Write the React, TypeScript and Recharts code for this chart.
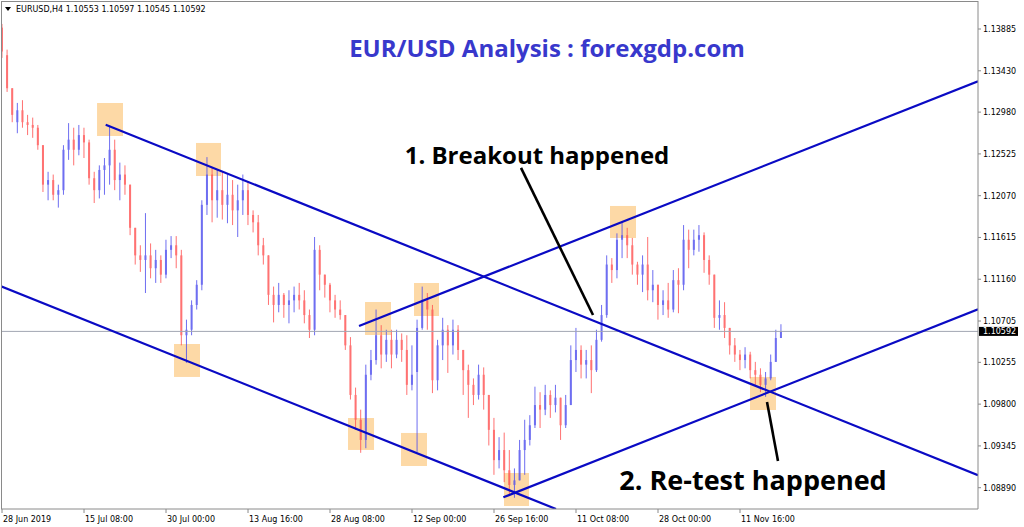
import { Bar, ComposedChart, ReferenceArea, ReferenceLine, XAxis, YAxis } from 'recharts';

const OPEN = [
  1.1390, 1.1360, 1.1324, 1.1287, 1.1300, 1.1287, 1.1284, 1.1281, 1.1262, 1.1219,
  1.1224, 1.1208, 1.1213, 1.1257, 1.1268, 1.1257, 1.1273, 1.1265, 1.1226, 1.1213,
  1.1235, 1.1240, 1.1257, 1.1224, 1.1230, 1.1219, 1.1172, 1.1142, 1.1137, 1.1142,
  1.1128, 1.1137, 1.1121, 1.1148, 1.1153, 1.1142, 1.1055, 1.1061, 1.1088, 1.1110,
  1.1197, 1.1230, 1.1202, 1.1213, 1.1197, 1.1208, 1.1191, 1.1202, 1.1213, 1.1186,
  1.1178, 1.1153, 1.1142, 1.1099, 1.1088, 1.1099, 1.1088, 1.1093, 1.1099, 1.1093,
  1.1077, 1.1061, 1.1148, 1.1121, 1.1110, 1.1093, 1.1083, 1.1077, 1.1044, 1.0990,
  1.0963, 1.0941, 1.1012, 1.1028, 1.1055, 1.1034, 1.1050, 1.1034, 1.1050, 1.1039,
  1.1001, 1.1015, 1.1063, 1.1093, 1.1083, 1.1006, 1.1044, 1.1061, 1.1044, 1.1061,
  1.1039, 1.1017, 1.1001, 1.0990, 1.1012, 1.0990, 1.0952, 1.0919, 1.0930, 1.0908,
  1.0892, 1.0897, 1.0930, 1.0941, 1.0957, 1.0979, 1.0974, 1.0990, 1.0979, 1.0987,
  1.0957, 1.0979, 1.1028, 1.1039, 1.1023, 1.1028, 1.1017, 1.1050, 1.1077, 1.1132,
  1.1126, 1.1159, 1.1164, 1.1153, 1.1132, 1.1121, 1.1132, 1.1104, 1.1110, 1.1088,
  1.1093, 1.1083, 1.1115, 1.1110, 1.1159, 1.1148, 1.1159, 1.1164, 1.1137, 1.1121,
  1.1074, 1.1077, 1.1063, 1.1044, 1.1034, 1.1028, 1.1034, 1.1017, 1.1012, 1.1001,
  1.1008, 1.1026, 1.1052,
];
const HIGH = [
  1.1394, 1.1366, 1.1324, 1.1308, 1.1311, 1.1295, 1.1292, 1.1284, 1.1262, 1.1233,
  1.1230, 1.1219, 1.1262, 1.1286, 1.1281, 1.1284, 1.1281, 1.1268, 1.1233, 1.1240,
  1.1248, 1.1283, 1.1268, 1.1243, 1.1240, 1.1219, 1.1172, 1.1153, 1.1188, 1.1155,
  1.1148, 1.1142, 1.1159, 1.1163, 1.1163, 1.1148, 1.1072, 1.1093, 1.1115, 1.1202,
  1.1249, 1.1237, 1.1235, 1.1233, 1.1230, 1.1224, 1.1219, 1.1230, 1.1222, 1.1191,
  1.1186, 1.1161, 1.1142, 1.1108, 1.1112, 1.1101, 1.1104, 1.1108, 1.1112, 1.1104,
  1.1083, 1.1162, 1.1153, 1.1121, 1.1112, 1.1099, 1.1093, 1.1077, 1.1053, 1.0998,
  1.0974, 1.1023, 1.1039, 1.1083, 1.1066, 1.1061, 1.1061, 1.1061, 1.1057, 1.1055,
  1.1044, 1.1072, 1.1108, 1.1101, 1.1088, 1.1050, 1.1074, 1.1066, 1.1072, 1.1066,
  1.1039, 1.1023, 1.1008, 1.1023, 1.1020, 1.0990, 1.0965, 1.0944, 1.0949, 1.0930,
  1.0910, 1.0941, 1.0963, 1.0968, 1.0999, 1.0993, 1.1001, 1.0995, 1.1001, 1.0987,
  1.0990, 1.1044, 1.1063, 1.1044, 1.1039, 1.1044, 1.1061, 1.1088, 1.1142, 1.1139,
  1.1166, 1.1178, 1.1172, 1.1161, 1.1135, 1.1142, 1.1162, 1.1126, 1.1110, 1.1104,
  1.1112, 1.1126, 1.1128, 1.1175, 1.1170, 1.1170, 1.1175, 1.1167, 1.1142, 1.1121,
  1.1093, 1.1091, 1.1063, 1.1052, 1.1039, 1.1042, 1.1037, 1.1026, 1.1019, 1.1015,
  1.1034, 1.1061, 1.1067,
];
const LOW = [
  1.1357, 1.1320, 1.1287, 1.1275, 1.1281, 1.1273, 1.1270, 1.1257, 1.1211, 1.1202,
  1.1202, 1.1194, 1.1208, 1.1246, 1.1240, 1.1251, 1.1248, 1.1219, 1.1199, 1.1204,
  1.1208, 1.1219, 1.1213, 1.1202, 1.1208, 1.1164, 1.1132, 1.1124, 1.1101, 1.1117,
  1.1112, 1.1112, 1.1117, 1.1139, 1.1128, 1.1044, 1.1025, 1.1055, 1.1083, 1.1104,
  1.1186, 1.1178, 1.1183, 1.1181, 1.1177, 1.1175, 1.1162, 1.1186, 1.1175, 1.1167,
  1.1142, 1.1132, 1.1088, 1.1069, 1.1080, 1.1074, 1.1068, 1.1080, 1.1083, 1.1068,
  1.1052, 1.1055, 1.1104, 1.1096, 1.1080, 1.1074, 1.1072, 1.1039, 1.0985, 1.0952,
  1.0927, 1.0932, 1.1006, 1.1023, 1.1019, 1.1026, 1.1019, 1.1030, 1.1026, 1.0990,
  1.0995, 1.0928, 1.1061, 1.1061, 1.0992, 1.0995, 1.1028, 1.1014, 1.1034, 1.1028,
  1.0990, 1.0965, 1.0979, 1.0985, 1.0974, 1.0935, 1.0903, 1.0910, 1.0895, 1.0881,
  1.0878, 1.0897, 1.0903, 1.0935, 1.0954, 1.0954, 1.0968, 1.0965, 1.0971, 1.0941,
  1.0954, 1.0979, 1.1015, 1.1008, 1.1008, 1.0992, 1.1015, 1.1048, 1.1074, 1.1112,
  1.1117, 1.1139, 1.1139, 1.1121, 1.1110, 1.1102, 1.1093, 1.1091, 1.1072, 1.1077,
  1.1074, 1.1080, 1.1079, 1.1104, 1.1128, 1.1142, 1.1146, 1.1123, 1.1110, 1.1063,
  1.1061, 1.1052, 1.1034, 1.1026, 1.1017, 1.1019, 1.1008, 1.1001, 1.0993, 1.0988,
  1.1006, 1.1026, 1.1052,
];
const CLOSE = [
  1.1364, 1.1324, 1.1295, 1.1300, 1.1287, 1.1284, 1.1281, 1.1262, 1.1219, 1.1224,
  1.1208, 1.1213, 1.1257, 1.1268, 1.1257, 1.1273, 1.1265, 1.1226, 1.1213, 1.1235,
  1.1240, 1.1257, 1.1224, 1.1230, 1.1219, 1.1172, 1.1142, 1.1137, 1.1142, 1.1128,
  1.1137, 1.1121, 1.1148, 1.1153, 1.1142, 1.1055, 1.1061, 1.1088, 1.1110, 1.1197,
  1.1230, 1.1202, 1.1213, 1.1197, 1.1208, 1.1191, 1.1202, 1.1213, 1.1186, 1.1178,
  1.1153, 1.1142, 1.1099, 1.1088, 1.1099, 1.1088, 1.1093, 1.1099, 1.1093, 1.1077,
  1.1061, 1.1148, 1.1121, 1.1110, 1.1093, 1.1083, 1.1077, 1.1044, 1.0990, 1.0963,
  1.0941, 1.1012, 1.1028, 1.1055, 1.1034, 1.1050, 1.1034, 1.1050, 1.1039, 1.1001,
  1.1012, 1.1063, 1.1093, 1.1083, 1.1006, 1.1044, 1.1061, 1.1044, 1.1061, 1.1039,
  1.1017, 1.1001, 1.0990, 1.1012, 1.0990, 1.0952, 1.0919, 1.0930, 1.0908, 1.0892,
  1.0897, 1.0930, 1.0941, 1.0957, 1.0979, 1.0974, 1.0990, 1.0979, 1.0987, 1.0957,
  1.0979, 1.1028, 1.1039, 1.1023, 1.1028, 1.1017, 1.1050, 1.1077, 1.1132, 1.1126,
  1.1159, 1.1164, 1.1153, 1.1132, 1.1121, 1.1132, 1.1104, 1.1110, 1.1088, 1.1093,
  1.1083, 1.1115, 1.1110, 1.1159, 1.1148, 1.1159, 1.1164, 1.1137, 1.1121, 1.1074,
  1.1077, 1.1063, 1.1044, 1.1034, 1.1028, 1.1034, 1.1017, 1.1012, 1.1001, 1.1008,
  1.1026, 1.1052, 1.10592,
];

const X_TICKS = [0, 16, 32, 48, 64, 80, 96, 112, 128, 144];
const X_LABELS = [
  '28 Jun 2019', '15 Jul 08:00', '30 Jul 00:00', '13 Aug 16:00', '28 Aug 08:00',
  '12 Sep 00:00', '26 Sep 16:00', '11 Oct 08:00', '28 Oct 00:00', '11 Nov 16:00',
];
const Y_TICKS = [1.0889, 1.09345, 1.098, 1.10255, 1.10705, 1.1116, 1.11615, 1.1207, 1.12525, 1.1298, 1.1343, 1.13885];
const LAST_PRICE = 1.10592;

// trend lines [x1, y1, x2, y2] in bar index / price
const TREND_LINES = [
  [20.23, 1.12843, 190.44, 1.09026],
  [-0.2, 1.11083, 108.1, 1.08658],
  [69.66, 1.10651, 190.44, 1.13316],
  [97.82, 1.08785, 190.44, 1.10833],
];
const POINTERS = [
  [101.27, 1.12372, 115.32, 1.10771],
  [149.27, 1.09823, 151.41, 1.09181],
];
// highlight boxes [x1, x2, yTop, yBottom]
const BOXES = [
  [18.54, 23.61, 1.13079, 1.1272],
  [37.85, 42.73, 1.12644, 1.12284],
  [33.56, 38.63, 1.10455, 1.10096],
  [70.83, 75.9, 1.10912, 1.10553],
  [80.39, 85.27, 1.11119, 1.1076],
  [67.51, 72.59, 1.09649, 1.09301],
  [77.85, 82.93, 1.09486, 1.09126],
  [97.95, 102.83, 1.0905, 1.08691],
  [118.63, 123.71, 1.11958, 1.11609],
  [145.95, 151.02, 1.10096, 1.09736],
];

const BULL = '#4b4bee';
const BEAR = '#ff4f4f';
const FRAME = '#8a8a8a';

const data = OPEN.map((o, i) => ({ i, open: o, high: HIGH[i], low: LOW[i], close: CLOSE[i] }));

const Candle = (props: any) => {
  const { x, y, width, height, payload } = props;
  const top = Math.min(y, y + height);
  const bottom = Math.max(y, y + height);
  const span = payload.high - payload.low;
  const k = span > 0 ? (bottom - top) / span : 0;
  const yo = top + (payload.high - payload.open) * k;
  const yc = top + (payload.high - payload.close) * k;
  const color = payload.close >= payload.open ? BULL : BEAR;
  const cx = x + width / 2;
  return (
    <g opacity={0.8}>
      <line x1={cx} x2={cx} y1={top} y2={bottom} stroke={color} strokeWidth={1} />
      <rect x={cx - 1} y={Math.min(yo, yc)} width={2} height={Math.max(Math.abs(yc - yo), 1)} fill={color} />
    </g>
  );
};

const XTick = (props: any) => {
  const { x, y, payload } = props;
  const idx = X_TICKS.indexOf(payload.value);
  return (
    <g>
      <line x1={x} x2={x} y1={y} y2={y + 4} stroke={FRAME} />
      <text x={x + 1} y={y + 13} fontSize={8} fontFamily="DejaVu Sans" fill="#000">
        {X_LABELS[idx]}
      </text>
    </g>
  );
};

const PriceTag = (props: any) => {
  const { viewBox } = props;
  const right = viewBox.x + viewBox.width;
  return (
    <g>
      <rect x={right + 1} y={viewBox.y - 4.5} width={39} height={9} fill="#000" />
      <text x={right + 5} y={viewBox.y + 3} fontSize={8} fontFamily="DejaVu Sans" fill="#fff">
        {LAST_PRICE.toFixed(5)}
      </text>
    </g>
  );
};

export default function App() {
  return (
    <div style={{ position: 'absolute', left: 0, top: 0, width: 1024, height: 527, background: '#fff' }}>
      <ComposedChart
        width={1024}
        height={527}
        data={data}
        margin={{ top: 1, right: 0, bottom: 0, left: 1 }}
        style={{ fontFamily: 'DejaVu Sans' }}
      >
        <XAxis
          dataKey="i"
          type="number"
          domain={[-0.2, 190.44]}
          allowDataOverflow
          ticks={X_TICKS}
          interval={0}
          height={18}
          tickSize={0}
          tickMargin={0}
          tick={<XTick />}
          axisLine={{ stroke: FRAME }}
        />
        <YAxis
          orientation="right"
          type="number"
          domain={[1.08658, 1.1419]}
          allowDataOverflow
          ticks={Y_TICKS}
          interval={0}
          width={46}
          tickSize={3}
          tickMargin={2}
          tickFormatter={(v: number) => v.toFixed(5)}
          tick={{ fontSize: 8, fill: '#000', fontFamily: 'DejaVu Sans' }}
          tickLine={{ stroke: FRAME }}
          axisLine={{ stroke: FRAME }}
        />
        {BOXES.map((b, k) => (
          <ReferenceArea
            key={`box-${k}`}
            x1={b[0]}
            x2={b[1]}
            y1={b[2]}
            y2={b[3]}
            fill="#fdd9a6"
            fillOpacity={1}
            stroke="none"
            ifOverflow="hidden"
          />
        ))}
        <ReferenceLine y={LAST_PRICE} stroke="#a2a6b2" strokeWidth={1} label={<PriceTag />} />
        <Bar dataKey={(d: any) => [d.low, d.high]} barSize={3} shape={<Candle />} isAnimationActive={false} />
        {TREND_LINES.map((l, k) => (
          <ReferenceLine
            key={`tl-${k}`}
            segment={[{ x: l[0], y: l[1] }, { x: l[2], y: l[3] }]}
            stroke="#0a0ac4"
            strokeWidth={2.2}
            ifOverflow="hidden"
          />
        ))}
        {POINTERS.map((l, k) => (
          <ReferenceLine
            key={`pt-${k}`}
            segment={[{ x: l[0], y: l[1] }, { x: l[2], y: l[3] }]}
            stroke="#000"
            strokeWidth={2.6}
            ifOverflow="hidden"
          />
        ))}
      </ComposedChart>
      <svg
        width={1024}
        height={527}
        style={{ position: 'absolute', left: 0, top: 0, pointerEvents: 'none' }}
      >
        <line x1={1.5} y1={1} x2={1.5} y2={509} stroke={FRAME} />
        <line x1={1} y1={1.5} x2={978} y2={1.5} stroke={FRAME} />
        <polygon points="5,7 11,7 8,11" fill="#000" />
        <text x={16} y={12} fontSize={8} fontFamily="DejaVu Sans" fill="#000">
          EURUSD,H4  1.10553 1.10597 1.10545 1.10592
        </text>
        <text x={547} y={57} textAnchor="middle" fontSize={24} fontWeight={700} fontFamily="Open Sans" fill="#3838cc">
          EUR/USD Analysis : forexgdp.com
        </text>
        <text x={537} y={164} textAnchor="middle" fontSize={24} fontWeight={700} fontFamily="Open Sans" fill="#000">
          1. Breakout happened
        </text>
        <text x={753} y={490} textAnchor="middle" fontSize={27} fontWeight={700} fontFamily="Open Sans" fill="#000">
          2. Re-test happened
        </text>
      </svg>
    </div>
  );
}
